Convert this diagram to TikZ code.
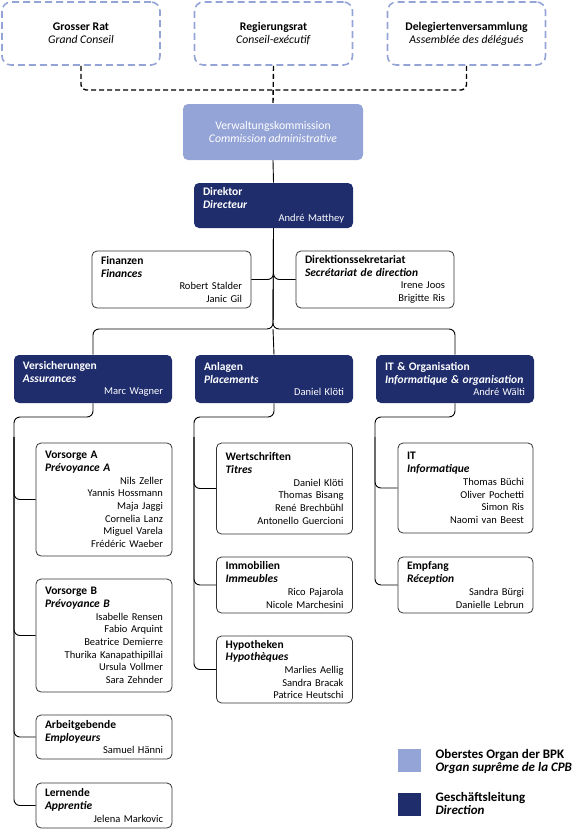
\documentclass[tikz,border=0pt]{standalone}
\usepackage{fontspec}
\setmainfont{Carlito}
\definecolor{lav}{HTML}{95A4D7}
\definecolor{navy}{HTML}{1F2D6D}
\newcommand{\headfont}{\fontsize{11.5}{12.7}\selectfont}
\newcommand{\unithead}[2]{{\headfont\textbf{#1}}\\{\headfont\textbf{\textit{#2}}}}
\newcommand{\person}[1]{\hspace*{\fill}#1}

\begin{document}
\begin{tikzpicture}[x=1pt,y=-1pt,
  every node/.style={font=\fontsize{10.5}{12.7}\selectfont},
  unit/.style={draw=black!80, line width=0.8pt, rounded corners=5pt, fill=white,
               align=left, inner xsep=9pt, inner ysep=2pt, text width=141pt},
  subunit/.style={unit, text width=118pt},
  lead/.style={unit, draw=none, fill=navy, text=white},
  organ/.style={draw=lav, line width=1.6pt, dash pattern=on 7pt off 4pt, rounded corners=9pt,
                align=center, minimum width=158pt, minimum height=63pt,
                font=\fontsize{11.7}{13}\selectfont},
  wire/.style={draw, line width=0.9pt, rounded corners=6pt},
  dashwire/.style={draw, line width=1.4pt, dash pattern=on 5pt off 3pt, rounded corners=5pt}]
\useasboundingbox (0,0) rectangle (577,830);

% oberste Organe
\node[organ] (grossrat) at (81,33.5) {\textbf{Grosser Rat}\\\textit{Grand Conseil}};
\node[organ] (regrat) at (273.5,33.5) {\textbf{Regierungsrat}\\\textit{Conseil-exécutif}};
\node[organ] (delver) at (466.5,33.5) {\textbf{Delegiertenversammlung}\\\textit{Assemblée des délégués}};
\node[fill=lav, text=white, rounded corners=5pt, align=center, minimum width=180pt, minimum height=56pt,
      font=\fontsize{11.7}{13}\selectfont]
  (verwkom) at (273,132) {Verwaltungskommission\\\textit{Commission administrative}};

\coordinate (topjoin) at (273,90);
\draw[dashwire] (grossrat.south) |- (topjoin);
\draw[dashwire] (delver.south) |- (topjoin);
\draw[dashwire] (regrat.south) -- (verwkom.north);

% Direktion
\node[lead, minimum height=45pt] (direktor) at (273.5,205.5)
  {\unithead{Direktor}{Directeur}\\\person{André Matthey}};
\node[unit, minimum height=57pt] (finanzen) at (171.5,279.5)
  {\unithead{Finanzen}{Finances}\\\person{Robert Stalder}\\\person{Janic Gil}};
\node[unit, minimum height=57pt, text width=140pt] (sekret) at (375,279.5)
  {\unithead{Direktionssekretariat}{Secrétariat de direction}\\\person{Irene Joos}\\\person{Brigitte Ris}};

\draw[wire] (verwkom.south) -- (direktor.north);
\draw[wire] (direktor.south) |- (finanzen.east);
\draw[wire] (direktor.south) |- (sekret.west);

% Bereiche
\node[lead, minimum height=48pt, text width=140pt] (versich) at (93,379)
  {\unithead{Versicherungen}{Assurances}\\\person{Marc Wagner}};
\node[lead, minimum height=48pt, text width=140pt] (anlagen) at (274,379)
  {\unithead{Anlagen}{Placements}\\\person{Daniel Klöti}};
\node[lead, minimum height=48pt, text width=140pt] (itorg) at (455,379)
  {\unithead{IT \& Organisation}{Informatique \& organisation}\\\person{André Wälti}};

\coordinate (areajoin) at (273,329);
\draw[wire] (direktor.south) -- (areajoin) -| (versich.north);
\draw[wire] (direktor.south) -- (areajoin) -| (itorg.north);
\draw[wire] (areajoin) -- (anlagen.north);

% Versicherungen
\node[subunit, minimum height=113pt] (vorsa) at (104,499.5)
  {\unithead{Vorsorge A}{Prévoyance A}\\\person{Nils Zeller}\\\person{Yannis Hossmann}\\\person{Maja Jaggi}\\
   \person{Cornelia Lanz}\\\person{Miguel Varela}\\\person{Frédéric Waeber}};
\node[subunit, minimum height=113pt] (vorsb) at (104,635.5)
  {\unithead{Vorsorge B}{Prévoyance B}\\\person{Isabelle Rensen}\\\person{Fabio Arquint}\\\person{Beatrice Demierre}\\
   \person{Thurika Kanapathipillai}\\\person{Ursula Vollmer}\\\person{Sara Zehnder}};
\node[subunit, minimum height=44pt] (arbgeb) at (104,737)
  {\unithead{Arbeitgebende}{Employeurs}\\\person{Samuel Hänni}};
\node[subunit, minimum height=45pt] (lernende) at (104,805.5)
  {\unithead{Lernende}{Apprentie}\\\person{Jelena Markovic}};

\coordinate (versspine) at (14,417);
\draw[wire] (versich.south) |- (versspine) |- (lernende.west);
\foreach \u in {vorsa,vorsb,arbgeb}
  \draw[wire] (versspine) ++(0,20) |- (\u.west);

% Anlagen
\node[subunit, minimum height=91pt] (wertschr) at (284.5,488.5)
  {\unithead{Wertschriften}{Titres}\\\person{Daniel Klöti}\\\person{Thomas Bisang}\\\person{René Brechbühl}\\
   \person{Antonello Guercioni}};
\node[subunit, minimum height=56pt] (immob) at (284.5,585)
  {\unithead{Immobilien}{Immeubles}\\\person{Rico Pajarola}\\\person{Nicole Marchesini}};
\node[subunit, minimum height=67pt] (hypoth) at (284.5,669.5)
  {\unithead{Hypotheken}{Hypothèques}\\\person{Marlies Aellig}\\\person{Sandra Bracak}\\\person{Patrice Heutschi}};

\coordinate (anlspine) at (194,417);
\draw[wire] (anlagen.south) |- (anlspine) |- (hypoth.west);
\foreach \u in {wertschr,immob}
  \draw[wire] (anlspine) ++(0,20) |- (\u.west);

% IT & Organisation
\node[subunit, minimum height=90pt, text width=117pt] (itbox) at (465.5,488)
  {\unithead{IT}{Informatique}\\\person{Thomas Büchi}\\\person{Oliver Pochetti}\\\person{Simon Ris}\\
   \person{Naomi van Beest}};
\node[subunit, minimum height=56pt, text width=117pt] (empfang) at (465.5,585)
  {\unithead{Empfang}{Réception}\\\person{Sandra Bürgi}\\\person{Danielle Lebrun}};

\coordinate (itspine) at (375,417);
\draw[wire] (itorg.south) |- (itspine) |- (empfang.west);
\draw[wire] (itspine) ++(0,20) |- (itbox.west);

% Legende
\node[fill=lav, minimum size=23pt, inner sep=0pt] (keyorgan) at (409.5,760.5) {};
\node[fill=navy, minimum size=23pt, inner sep=0pt] (keylead) at (409.5,804.5) {};
\node[anchor=west, align=left, font=\fontsize{13}{13.5}\selectfont] (keyorgantext) at (432,761.5)
  {\textbf{Oberstes Organ der BPK}\\\textbf{\textit{Organ suprême de la CPB}}};
\node[anchor=west, align=left, font=\fontsize{13}{13.5}\selectfont] (keyleadtext) at (432,803.5)
  {\textbf{Geschäftsleitung}\\\textbf{\textit{Direction}}};
\end{tikzpicture}
\end{document}
